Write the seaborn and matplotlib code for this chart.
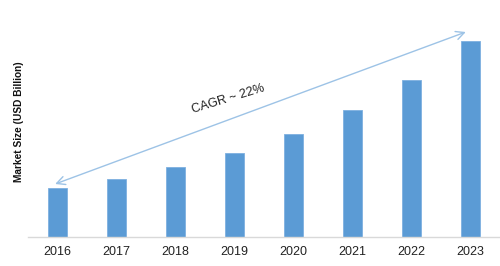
import matplotlib
matplotlib.use("Agg")
import matplotlib.pyplot as plt
import seaborn as sns
import pandas as pd

years = ["2016", "2017", "2018", "2019", "2020", "2021", "2022", "2023"]
market_size = [49, 58, 70, 84, 103, 127, 157, 196]
cagr_label = "CAGR ~ 22%"
y_label = "Market Size (USD Billion)"

sns.set_theme(style="white")
plt.rcParams["font.family"] = ["Liberation Sans", "DejaVu Sans"]

df = pd.DataFrame({"year": years, "size": market_size})

fig = plt.figure(figsize=(5.0, 2.66), dpi=100)
ax = fig.add_axes([0.056, 0.109, 0.944, 0.891])
sns.barplot(data=df, x="year", y="size", color="#5B9BD5", saturation=1,
            width=0.32, ax=ax, edgecolor="#7EB0E0", linewidth=0.6)

ax.set_xlim(-0.5, 7.5)
ax.set_ylim(0, 237)
ax.set_yticks([])
ax.set_xlabel("")
ax.set_ylabel("")
for s in ["top", "right", "left"]:
    ax.spines[s].set_visible(False)
ax.spines["bottom"].set_color("#D9D9D9")
ax.spines["bottom"].set_linewidth(1.0)
ax.tick_params(axis="x", length=0, pad=6.5, labelsize=9, labelcolor="#222222")

fig.text(0.038, 0.541, y_label, rotation=90, ha="center", va="center",
         fontsize=7.3, fontweight="bold", color="#111111")

ax.annotate("", xy=(-0.04, 53), xytext=(6.92, 205),
            arrowprops=dict(arrowstyle="<->,head_length=0.5,head_width=0.25",
                            color="#9DC3E6", lw=1.0, shrinkA=0, shrinkB=0))
ax.text(2.89, 138, cagr_label, rotation=17, ha="center", va="center",
        fontsize=9, color="#222222")

fig.savefig("out.png", dpi=100)
